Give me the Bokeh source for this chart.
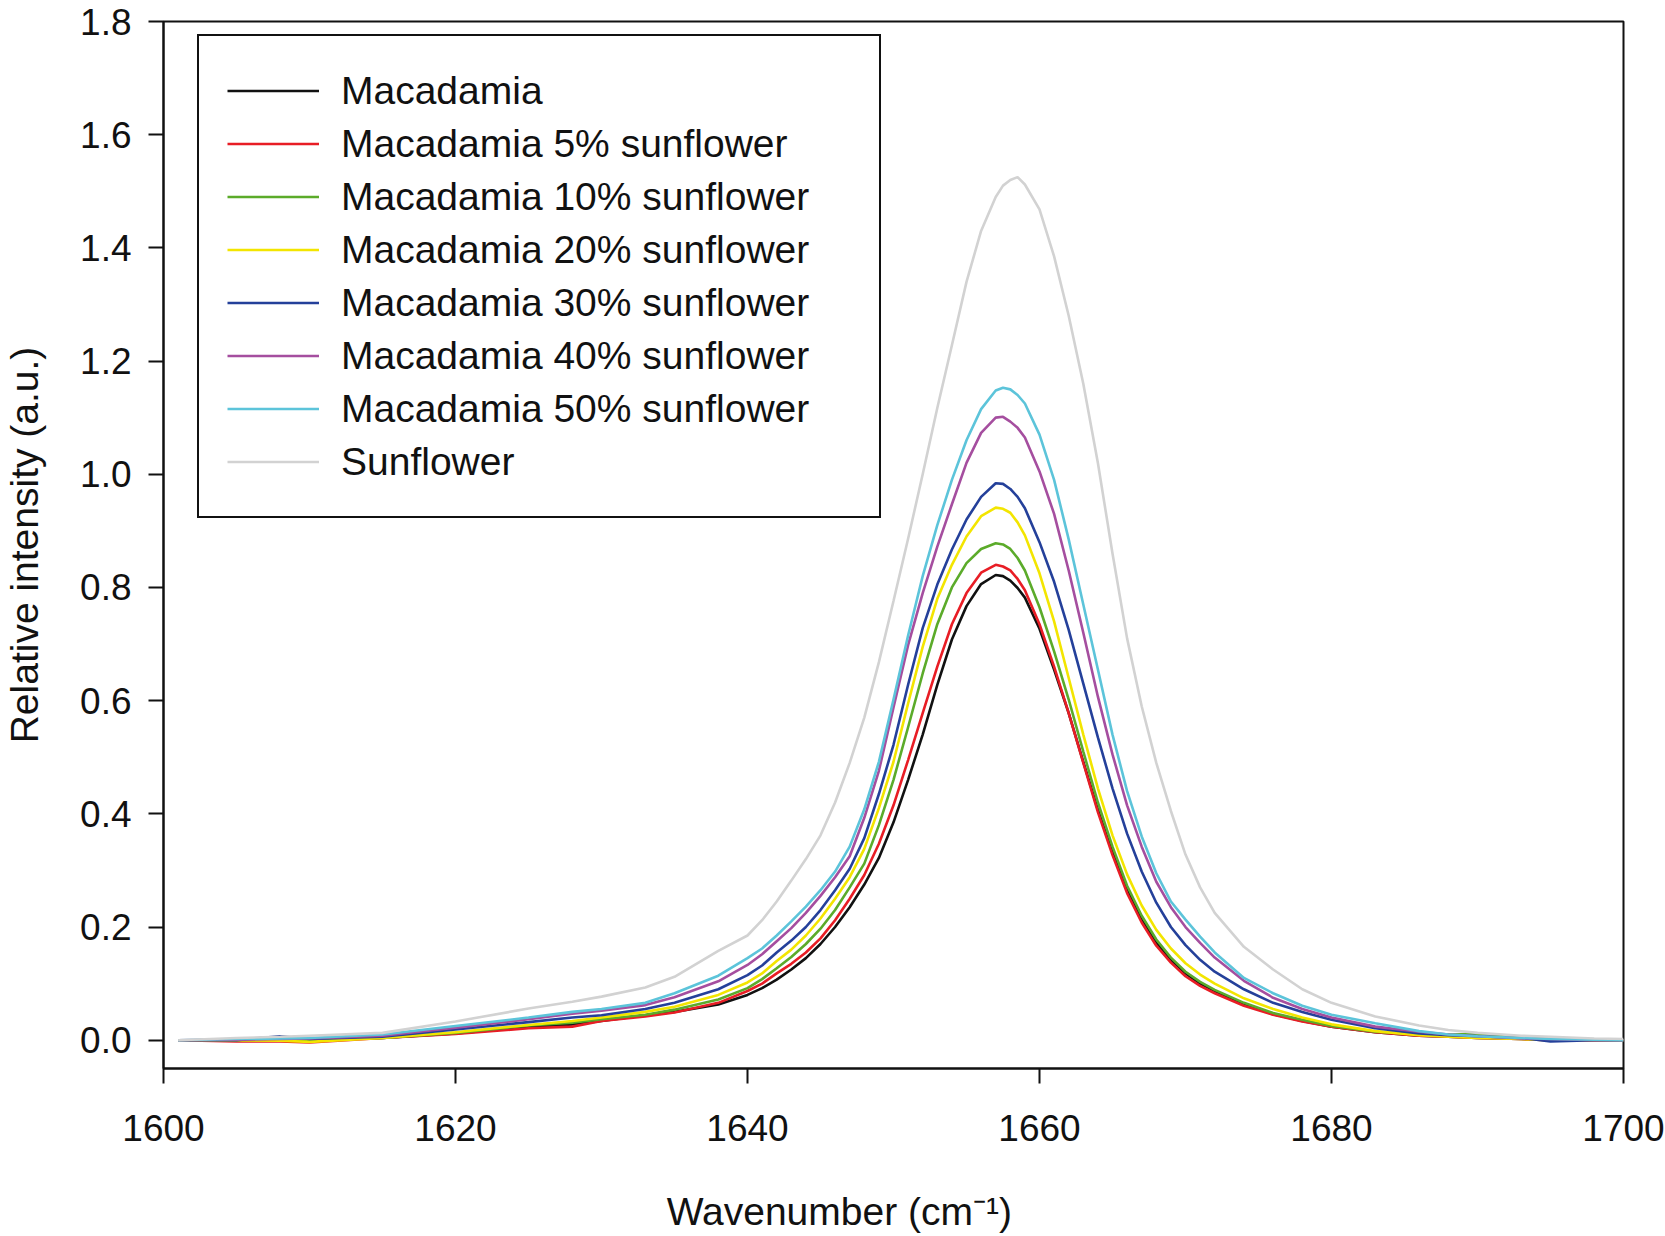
from bokeh.plotting import figure
from bokeh.models import Range1d, FixedTicker, PrintfTickFormatter, Legend, LegendItem
from bokeh.embed import file_html
from bokeh.resources import INLINE

WAVENUMBER = [1601, 1605, 1608, 1610, 1615, 1620, 1625, 1628, 1630, 1633, 1635, 1638, 1640, 1641,
              1642, 1643, 1644, 1645, 1646, 1647, 1648, 1649, 1650, 1651, 1652, 1653, 1654, 1655, 1656,
              1657, 1657.5, 1658, 1658.5, 1659, 1660, 1661, 1662, 1663, 1664, 1665, 1666, 1667, 1668, 1669,
              1670, 1671, 1672,
              1674, 1676, 1678, 1680, 1683, 1686, 1688, 1690, 1693, 1695, 1698, 1700]

MACADAMIA = [0.0, 0.0, 0.0, 0.0, 0.004, 0.012, 0.023, 0.028, 0.034, 0.044, 0.05, 0.063, 0.08, 0.092,
             0.107, 0.125, 0.145, 0.17, 0.2, 0.235, 0.275, 0.322, 0.385, 0.46, 0.54, 0.628, 0.708, 0.767, 0.806,
             0.822, 0.82, 0.812, 0.799, 0.782, 0.727, 0.655, 0.578, 0.492, 0.407, 0.332, 0.265, 0.213, 0.172, 0.142,
             0.118, 0.1, 0.087,
             0.064, 0.046, 0.034, 0.024, 0.014, 0.008, 0.006, 0.004, 0.002, 0.001, 0.0, 0.0]
MAC_5 = [0.0, -0.002, -0.002, -0.004, 0.004, 0.011, 0.021, 0.024, 0.034, 0.042, 0.049, 0.066, 0.087, 0.1,
         0.118, 0.135, 0.155, 0.18, 0.212, 0.25, 0.292, 0.347, 0.415, 0.495, 0.578, 0.66, 0.735, 0.79, 0.826,
         0.84, 0.837, 0.83, 0.815, 0.795, 0.735, 0.66, 0.578, 0.49, 0.403, 0.327, 0.26, 0.208, 0.167, 0.137,
         0.113, 0.096, 0.083,
         0.061, 0.045, 0.033, 0.024, 0.014, 0.008, 0.006, 0.004, 0.002, 0.0, 0.0, 0.0]
MAC_10 = [0.0, 0.0, 0.0, 0.0, 0.004, 0.013, 0.026, 0.031, 0.037, 0.045, 0.054, 0.072, 0.092, 0.108,
          0.127, 0.147, 0.17, 0.197, 0.23, 0.27, 0.312, 0.38, 0.46, 0.553, 0.648, 0.735, 0.8, 0.843, 0.868,
          0.878, 0.876, 0.868, 0.852, 0.83, 0.765, 0.687, 0.602, 0.51, 0.42, 0.342, 0.273, 0.22, 0.178, 0.146,
          0.121, 0.103, 0.089,
          0.066, 0.048, 0.036, 0.025, 0.015, 0.01, 0.01, 0.011, 0.004, 0.002, 0.0, 0.0]
MAC_20 = [0.0, 0.0, -0.001, -0.003, 0.004, 0.014, 0.027, 0.034, 0.04, 0.05, 0.059, 0.08, 0.102, 0.118,
          0.14, 0.16, 0.185, 0.215, 0.25, 0.288, 0.338, 0.41, 0.492, 0.595, 0.695, 0.78, 0.84, 0.89, 0.926,
          0.941, 0.939, 0.932, 0.915, 0.892, 0.825, 0.74, 0.64, 0.54, 0.445, 0.362, 0.293, 0.238, 0.195, 0.162,
          0.136, 0.116, 0.1,
          0.074, 0.055, 0.04, 0.028, 0.016, 0.009, 0.006, 0.004, 0.002, 0.0, 0.0, 0.0]
MAC_30 = [0.0, 0.0, 0.007, 0.002, 0.006, 0.019, 0.032, 0.04, 0.044, 0.055, 0.066, 0.09, 0.115, 0.132,
          0.155, 0.176, 0.2, 0.23, 0.265, 0.303, 0.357, 0.435, 0.522, 0.628, 0.728, 0.805, 0.867, 0.92, 0.96,
          0.984, 0.983, 0.974, 0.96, 0.94, 0.88, 0.81, 0.725, 0.63, 0.535, 0.445, 0.365, 0.298, 0.243, 0.2,
          0.168, 0.142, 0.121,
          0.09, 0.066, 0.05, 0.036, 0.021, 0.012, 0.009, 0.007, 0.004, -0.002, 0.0, 0.0]
MAC_40 = [0.0, 0.001, 0.002, 0.003, 0.008, 0.022, 0.037, 0.047, 0.052, 0.062, 0.076, 0.104, 0.133, 0.152,
          0.175, 0.198, 0.225, 0.255, 0.288, 0.325, 0.393, 0.476, 0.588, 0.698, 0.79, 0.872, 0.947, 1.02, 1.073,
          1.1, 1.1015, 1.093, 1.082, 1.065, 1.005, 0.93, 0.83, 0.72, 0.607, 0.505, 0.415, 0.342, 0.28, 0.235,
          0.2, 0.172, 0.146,
          0.105, 0.075, 0.055, 0.04, 0.024, 0.015, 0.01, 0.007, 0.003, 0.002, 0.0, 0.0]
MAC_50 = [0.0, 0.002, 0.003, 0.004, 0.01, 0.025, 0.04, 0.05, 0.055, 0.066, 0.083, 0.114, 0.145, 0.162,
          0.185, 0.21, 0.236, 0.265, 0.298, 0.342, 0.408, 0.492, 0.602, 0.715, 0.82, 0.91, 0.99, 1.06, 1.115,
          1.148, 1.153, 1.15, 1.14, 1.125, 1.07, 0.99, 0.885, 0.77, 0.655, 0.54, 0.44, 0.36, 0.295, 0.245,
          0.213, 0.183, 0.155,
          0.11, 0.083, 0.061, 0.045, 0.03, 0.016, 0.01, 0.007, 0.004, 0.002, 0.001, 0.0]
SUNFLOWER = [0.0, 0.004, 0.006, 0.008, 0.013, 0.033, 0.056, 0.068, 0.077, 0.093, 0.112, 0.158, 0.185, 0.212,
             0.245, 0.282, 0.32, 0.362, 0.42, 0.49, 0.57, 0.668, 0.776, 0.886, 1.0, 1.117, 1.228, 1.34, 1.43,
             1.49, 1.51, 1.52, 1.525, 1.512, 1.468, 1.385, 1.28, 1.16, 1.02, 0.86, 0.71, 0.59, 0.49, 0.405,
             0.328, 0.27, 0.225,
             0.165, 0.125, 0.09, 0.066, 0.042, 0.026, 0.018, 0.013, 0.008, 0.006, 0.003, 0.002]

SERIES_NAMES = ["Macadamia", "Macadamia 5% sunflower", "Macadamia 10% sunflower",
                "Macadamia 20% sunflower", "Macadamia 30% sunflower", "Macadamia 40% sunflower",
                "Macadamia 50% sunflower", "Sunflower"]
SERIES_VALUES = [MACADAMIA, MAC_5, MAC_10, MAC_20, MAC_30, MAC_40, MAC_50, SUNFLOWER]
COLORS = ["#111111", "#e81d25", "#5bab2a", "#f3e500", "#24409a", "#a54e9f", "#5cc4da", "#d2d2d2"]

X_TICKS = [1600, 1620, 1640, 1660, 1680, 1700]
Y_TICKS = [0.0, 0.2, 0.4, 0.6, 0.8, 1.0, 1.2, 1.4, 1.6, 1.8]
X_TITLE = "Wavenumber (cm\u207b\u00b9)"
Y_TITLE = "Relative intensity (a.u.)"

FONT = "Liberation Sans"

p = figure(width=1665, height=1236,
           x_range=Range1d(1600, 1700), y_range=Range1d(-0.05, 1.8),
           output_backend="svg", toolbar_location=None,
           min_border_left=163, min_border_right=42, min_border_top=21, min_border_bottom=168)

p.grid.visible = False
p.outline_line_color = "#111111"
p.outline_line_alpha = 1.0
p.outline_line_width = 2
p.background_fill_color = "white"
p.border_fill_color = "white"

for ax in (p.xaxis[0], p.yaxis[0]):
    ax.axis_line_width = 2
    ax.axis_line_color = "#111111"
    ax.major_tick_line_width = 2
    ax.major_tick_line_color = "#111111"
    ax.major_tick_out = 15
    ax.major_tick_in = 0
    ax.minor_tick_out = 0
    ax.minor_tick_in = 0
    ax.major_label_text_font = FONT
    ax.major_label_text_font_size = "37px"
    ax.major_label_text_color = "#111111"
    ax.axis_label_text_font = FONT
    ax.axis_label_text_font_size = "39px"
    ax.axis_label_text_font_style = "normal"
    ax.axis_label_text_color = "#111111"

p.xaxis.ticker = FixedTicker(ticks=X_TICKS)
p.xaxis.formatter = PrintfTickFormatter(format="%d")
p.xaxis.major_label_standoff = 31
# trailing no-break spaces shift the centred title left, as in the original
p.xaxis.axis_label = X_TITLE + "\u00a0" * 10
p.xaxis.axis_label_standoff = 46

p.yaxis.ticker = FixedTicker(ticks=Y_TICKS)
p.yaxis.formatter = PrintfTickFormatter(format="%.1f")
p.yaxis.major_label_standoff = 17
p.yaxis.axis_label = Y_TITLE
p.yaxis.axis_label_standoff = 31

items = []
for name, vals, col in zip(SERIES_NAMES, SERIES_VALUES, COLORS):
    r = p.line(WAVENUMBER, vals, line_color=col, line_width=2.6)
    items.append(LegendItem(label=name, renderers=[r]))

legend = Legend(items=items, location=(34, 550))
legend.border_line_color = "#111111"
legend.border_line_alpha = 1.0
legend.border_line_width = 2
legend.background_fill_color = "white"
legend.background_fill_alpha = 1.0
legend.padding = 28
legend.spacing = 0
legend.margin = 0
legend.label_height = 53
legend.glyph_height = 53
legend.glyph_width = 92
legend.label_standoff = 22
legend.label_width = 510
legend.label_text_font = FONT
legend.label_text_font_size = "39px"
legend.label_text_color = "#111111"
legend.label_text_baseline = "middle"
p.add_layout(legend)

open("out.html", "w").write(file_html(p, INLINE))
